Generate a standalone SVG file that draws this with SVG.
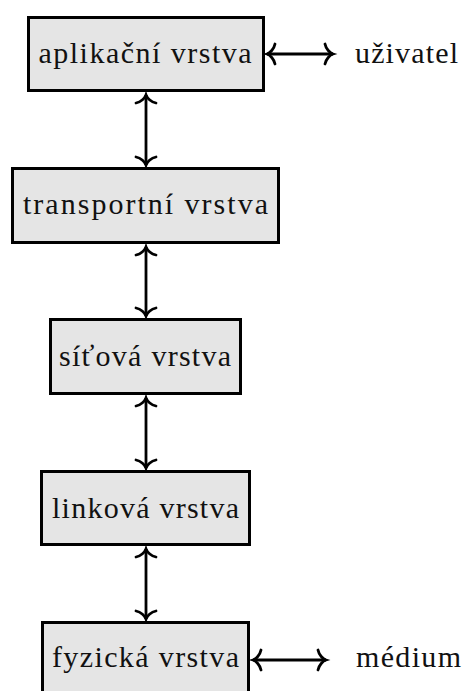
<svg xmlns="http://www.w3.org/2000/svg" width="465" height="691" viewBox="0 0 465 691">
<style>
.box{fill:#e5e5e5;stroke:#000;stroke-width:3}
.lbl{font-family:'Liberation Serif','DejaVu Serif',serif;font-size:30px;fill:#111}
.mid{text-anchor:middle}
.con{fill:none;stroke:#000;stroke-width:2.8;marker-start:url(#to);marker-end:url(#to)}
</style>
<defs>
<marker id="to" markerUnits="userSpaceOnUse" viewBox="-12 -12 14 24" markerWidth="14" markerHeight="24" refX="0" refY="0" orient="auto-start-reverse" overflow="visible">
<path d="M -8,-10 C -7,-5 -3,-1 0,0 C -3,1 -7,5 -8,10" fill="none" stroke="#000" stroke-width="2.8" stroke-linecap="round"/>
</marker>
</defs>
<g id="connectors">
<line class="con" x1="146" y1="95" x2="146" y2="165"/>
<line class="con" x1="146" y1="247" x2="146" y2="316"/>
<line class="con" x1="146" y1="398" x2="146" y2="468"/>
<line class="con" x1="146" y1="549" x2="146" y2="619"/>
<line class="con" x1="267" y1="54" x2="333" y2="54"/>
<line class="con" x1="253" y1="660" x2="326" y2="660"/>
</g>
<g id="aplikacni">
<rect class="box" x="28.5" y="17.5" width="235" height="73"/>
<text class="lbl mid" x="145" y="63" textLength="213" lengthAdjust="spacing">aplikační vrstva</text>
</g>
<g id="transportni">
<rect class="box" x="12.5" y="168.5" width="266" height="74"/>
<text class="lbl mid" x="145.5" y="213.5" textLength="245" lengthAdjust="spacing">transportní vrstva</text>
</g>
<g id="sitova">
<rect class="box" x="50.5" y="319.5" width="190" height="74"/>
<text class="lbl mid" x="145" y="366" textLength="172" lengthAdjust="spacing">síťová vrstva</text>
</g>
<g id="linkova">
<rect class="box" x="41.5" y="471.5" width="208" height="73"/>
<text class="lbl mid" x="145.5" y="517.5" textLength="187" lengthAdjust="spacing">linková vrstva</text>
</g>
<g id="fyzicka">
<rect class="box" x="42.5" y="622.5" width="206" height="74"/>
<text class="lbl mid" x="145.5" y="667" textLength="187" lengthAdjust="spacing">fyzická vrstva</text>
</g>
<g id="uzivatel">
<text class="lbl" x="355" y="62.5" textLength="103" lengthAdjust="spacing">uživatel</text>
</g>
<g id="medium">
<text class="lbl" x="356" y="666.5" textLength="105" lengthAdjust="spacing">médium</text>
</g>
</svg>
